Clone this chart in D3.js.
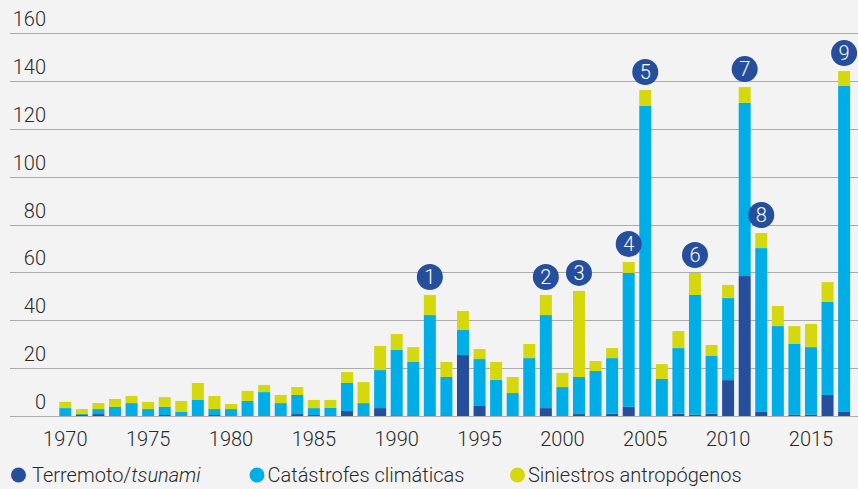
<!DOCTYPE html>
<html>
<head>
<meta charset="utf-8">
<script src="https://cdn.jsdelivr.net/npm/d3@7"></script>
<style>
  html, body { margin: 0; padding: 0; background: #f3f3f3; }
  svg { display: block; font-family: Roboto, "Liberation Sans", sans-serif; }
</style>
</head>
<body>
<div id="chart"></div>
<script>
// Catastrophe counts by year, stacked by type

const years = d3.range(1970, 2018);

const quake = [0, 0.4, 0.8, 0, 0, 0, 0.4, 0, 0, 0.4,
  0, 0, 0, 0, 0.8, 0.4, 0.3, 2.1, 0, 3.3,
  0.3, 0.3, 0.3, 0.3, 25.5, 4.2, 0, 0, 0, 3.3,
  0, 0.8, 0, 1.0, 3.8, 0.3, 0, 1.0, 0.5, 1.0,
  15.0, 58.5, 1.7, 0, 0.5, 0.5, 8.8, 1.7];

const climate = [3.3, 0.4, 2.1, 3.8, 5.4, 2.9, 3.4, 1.7, 6.7, 2.5,
  2.9, 6.3, 10.0, 5.4, 8.0, 2.9, 3.2, 11.7, 5.4, 15.9,
  27.3, 22.3, 41.9, 16.0, 10.5, 19.6, 15.1, 9.6, 24.2, 38.9,
  12.1, 15.5, 18.8, 23.2, 56.0, 129.3, 15.5, 27.4, 50.1, 24.1,
  34.3, 72.4, 68.5, 37.6, 29.6, 28.3, 38.9, 136.3];

const manmade = [2.6, 2.1, 2.5, 3.3, 3.0, 3.0, 4.1, 4.6, 7.1, 5.5,
  2.1, 4.2, 3.0, 3.4, 3.3, 3.4, 3.2, 4.6, 8.8, 10.1,
  6.7, 6.2, 8.4, 6.3, 7.9, 4.2, 7.5, 6.7, 5.9, 8.4,
  5.9, 36.0, 4.2, 4.2, 4.6, 6.7, 6.2, 7.1, 9.2, 4.6,
  5.5, 6.6, 6.3, 8.4, 7.5, 9.7, 8.3, 6.2];

const seriesKeys = ["quake", "climate", "manmade"];
const seriesNames = ["Terremoto/", "Catástrofes climáticas", "Siniestros antropógenos"];
const colors = ["#254e9c", "#00aee7", "#d4d80c"];

const yTicks = [0, 20, 40, 60, 80, 100, 120, 140, 160];
const xTicks = [1970, 1975, 1980, 1985, 1990, 1995, 2000, 2005, 2010, 2015];

// numbered events
const eventYears = [1992, 1999, 2001, 2004, 2005, 2008, 2011, 2012, 2017];
const eventLabels = ["1", "2", "3", "4", "5", "6", "7", "8", "9"];

const width = 858, height = 489;

const svg = d3.select("#chart").append("svg")
    .attr("width", width)
    .attr("height", height);

svg.append("rect").attr("width", width).attr("height", height).attr("fill", "#f3f3f3");

const x = d3.scaleBand()
    .domain(years)
    .range([57, 852.4])
    .paddingInner(0.276)
    .paddingOuter(0.138);

const y = d3.scaleLinear()
    .domain([0, 160])
    .range([416, 33.3]);

// grid + y labels
const grid = svg.append("g");
grid.selectAll("line")
    .data(yTicks)
    .join("line")
    .attr("x1", 10)
    .attr("x2", width)
    .attr("y1", d => Math.round(y(d)) + 0.5)
    .attr("y2", d => Math.round(y(d)) + 0.5)
    .attr("stroke", "#ababab")
    .attr("stroke-width", 1.2);

grid.selectAll("text")
    .data(yTicks)
    .join("text")
    .attr("x", 46)
    .attr("y", d => y(d) - 7)
    .attr("text-anchor", "end")
    .attr("font-size", 20)
    .attr("font-weight", 300)
    .attr("fill", "#2a2a2a")
    .text(d => d);

// stacked bars
const table = years.map((yr, i) => ({
    year: yr, quake: quake[i], climate: climate[i], manmade: manmade[i]
}));
const stacked = d3.stack().keys(seriesKeys)(table);

svg.append("g")
    .selectAll("g")
    .data(stacked)
    .join("g")
    .attr("fill", (d, i) => colors[i])
    .selectAll("rect")
    .data(d => d)
    .join("rect")
    .attr("x", d => x(d.data.year))
    .attr("width", x.bandwidth())
    .attr("y", d => y(d[1]))
    .attr("height", d => Math.max(0, y(d[0]) - y(d[1])));

// x axis labels
svg.append("g")
    .selectAll("text")
    .data(xTicks)
    .join("text")
    .attr("x", d => x(d) + x.bandwidth() / 2)
    .attr("y", 446)
    .attr("text-anchor", "middle")
    .attr("font-size", 20)
    .attr("font-weight", 300)
    .attr("fill", "#2a2a2a")
    .text(d => d);

// event markers
const totals = years.map((yr, i) => quake[i] + climate[i] + manmade[i]);
const markers = svg.append("g")
    .selectAll("g")
    .data(eventYears)
    .join("g")
    .attr("transform", d => {
        const i = years.indexOf(d);
        return `translate(${x(d) + x.bandwidth() / 2},${y(totals[i]) - 18})`;
    });

markers.append("circle")
    .attr("r", 13)
    .attr("fill", "#254e9c");

markers.append("text")
    .attr("text-anchor", "middle")
    .attr("dy", "0.36em")
    .attr("font-size", 20)
    .attr("font-weight", 300)
    .attr("fill", "#fff")
    .text((d, i) => eventLabels[i]);

// legend
const legendX = [18.5, 257, 517.5];
const legend = svg.append("g")
    .selectAll("g")
    .data(seriesNames)
    .join("g")
    .attr("transform", (d, i) => `translate(${legendX[i]},475)`);

legend.append("circle")
    .attr("r", 7.5)
    .attr("fill", (d, i) => colors[i]);

const legendText = legend.append("text")
    .attr("x", (d, i) => i === 0 ? 13.5 : 10.5)
    .attr("y", 7)
    .attr("font-size", 20)
    .attr("font-weight", 300)
    .attr("fill", "#2a2a2a")
    .text(d => d);

legendText.filter((d, i) => i === 0)
    .append("tspan")
    .attr("font-style", "italic")
    .text("tsunami");
</script>
</body>
</html>
